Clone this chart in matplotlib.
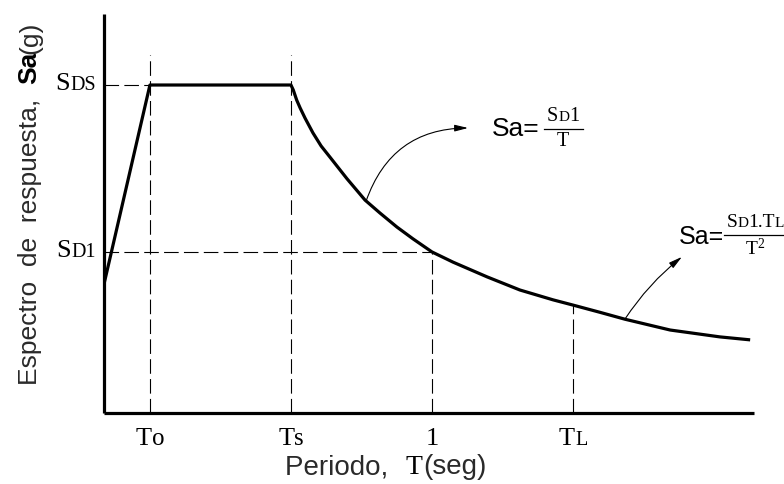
import matplotlib
matplotlib.use("Agg")
import matplotlib.pyplot as plt
from matplotlib.offsetbox import TextArea, HPacker, VPacker, DrawingArea, AnnotationBbox
from matplotlib.lines import Line2D

plt.rcParams['lines.scale_dashes'] = False

# ---------------- data ----------------
T_pts = [0.0, 0.140, 0.570, 0.577, 0.5875, 0.598, 0.613, 0.637, 0.662, 0.689,
         0.741, 0.796, 0.841, 0.893, 0.942, 1.000, 1.064, 1.168, 1.268,
         1.369, 1.430, 1.512, 1.588, 1.726, 1.878, 1.970]
Sa_pts = [0.393, 1.0, 1.0, 0.985, 0.954, 0.930, 0.899, 0.854, 0.814, 0.780,
          0.714, 0.649, 0.610, 0.567, 0.531, 0.491, 0.460, 0.415, 0.375,
          0.345, 0.329, 0.307, 0.286, 0.253, 0.232, 0.223]

T0, TS, T1, TL = 0.140, 0.570, 1.0, 1.430
SDS, SD1 = 1.0, 0.491
Sa_TL = 0.329
x_ticks = [T0, TS, T1, TL]
x_tick_labels = [("T", "o"), ("T", "s"), ("1", ""), ("T", "L")]
y_ticks = [SDS, SD1]
y_tick_labels = [("S", "DS"), ("S", "D1")]

SERIF = ['Liberation Serif', 'DejaVu Serif']
NARROW = ['Liberation Sans Narrow', 'Liberation Sans', 'DejaVu Sans']
TXT = '#2a2a2a'

fig = plt.figure(figsize=(7.84, 4.84), dpi=100)
ax = fig.add_axes([104/784, (484-413)/484, (754-104)/784, (413-14)/484])
ax.set_xlim(0, 1.9817)
ax.set_ylim(0, 1.2165)
for s in ['top', 'right']:
    ax.spines[s].set_visible(False)
for s in ['left', 'bottom']:
    ax.spines[s].set_linewidth(2.3)
    ax.spines[s].set_capstyle('butt')
ax.set_xticks([])
ax.set_yticks([])

# main curve
ax.plot(T_pts, Sa_pts, color='black', lw=2.3, solid_joinstyle='round',
        solid_capstyle='butt', zorder=3)

# dashed guide lines
dkw = dict(color='black', lw=0.8, linestyles=(0, (10.5, 3.8)), zorder=2)
top_guide = 1.091
ax.vlines([T0, TS], 0, top_guide, **dkw)
ax.vlines([T1], 0, SD1, **dkw)
ax.vlines([TL], 0, Sa_TL, **dkw)
ax.hlines([SDS], 0, T0, **dkw)
ax.hlines([SD1], 0, T1, **dkw)


def pack(parts, align='baseline', sep=0):
    children = [TextArea(t, textprops=p) for t, p in parts if t]
    return HPacker(children=children, align=align, pad=0, sep=sep)


def place(box, xy, xycoords, xybox=(0, 0), align=(0.5, 0.5)):
    ab = AnnotationBbox(box, xy, xycoords=xycoords, xybox=xybox,
                        boxcoords='offset points', box_alignment=align,
                        frameon=False, pad=0, annotation_clip=False)
    ax.add_artist(ab)


big = dict(family=SERIF, size=19, color='black')
small = dict(family=SERIF, size=14.5, color='black')

# x tick labels
for xv, (a, b) in zip(x_ticks, x_tick_labels):
    sp = dict(small) if b == 'L' else dict(big, size=18)
    place(pack([(a, big), (b, sp)]), (xv, 0), ('data', 'axes fraction'),
          xybox=(0, -11), align=(0.5, 1))

# y tick labels
for yv, (a, b) in zip(y_ticks, y_tick_labels):
    place(pack([(a, big), (b, small)]), (0, yv), ('axes fraction', 'data'),
          xybox=(-6, 1), align=(1, 0.5))

# x axis label
cad = dict(family=NARROW, size=20, color=TXT)
place(pack([("Periodo,  ", cad), ("T", dict(family=SERIF, size=20, color='black')),
            ("(seg)", cad)], sep=1),
      (386, 484-467), 'figure pixels', align=(0.5, 0.5))

# y axis label (rotated pieces)
ykw = dict(rotation=90, rotation_mode='anchor', ha='left', va='baseline')
fig.text(37/784, 1-385/484, "Espectro  de  respuesta,", family=NARROW, size=19,
         color=TXT, **ykw)
fig.text(36/784, 1-84/484, "Sa", family=NARROW, size=19, weight='bold',
         color='black', **ykw)
fig.text(37/784, 1-54/484, "(g)", family=NARROW, size=19, color=TXT, **ykw)


def frac_box(num_parts, den_parts, width_pt):
    num = pack(num_parts)
    den = pack(den_parts)
    da = DrawingArea(width_pt, 3, 0, 0)
    da.add_artist(Line2D([0, width_pt], [1.5, 1.5], color='black', lw=0.9))
    return VPacker(children=[num, da, den], align='center', pad=0, sep=1)


fS = dict(family=SERIF, size=14.5, color='black')
fs = dict(family=SERIF, size=11, color='black')
gS = dict(family=SERIF, size=14, color='black')
gs = dict(family=SERIF, size=11, color='black')

# formula 1
f1 = HPacker(children=[TextArea("Sa=", textprops=dict(family=NARROW, size=19, color='black')),
                       frac_box([("S", fS), ("D", fs), ("1", fS)], [("T", fS)], 28)],
             align='center', pad=0, sep=3)
place(f1, (492, 484-129), 'figure pixels', align=(0, 0.5))

# formula 2
f2 = HPacker(children=[TextArea("Sa=", textprops=dict(family=NARROW, size=18, color='black')),
                       frac_box([("S", gS), ("D", gs), ("1.T", gS), ("L", gs)],
                                [(r"$\mathregular{T^{2}}$", gS)], 45)],
             align='center', pad=0, sep=0)
place(f2, (679, 484-237), 'figure pixels', align=(0, 0.5))

# arrows
akw = dict(arrowstyle='-|>,head_length=0.8,head_width=0.2', color='black',
           lw=0.8, shrinkA=0, shrinkB=0)
ax.annotate("", xy=(1.110, 0.869), xytext=(0.799, 0.646),
            arrowprops=dict(akw, connectionstyle='arc3,rad=-0.35'))
ax.annotate("", xy=(1.762, 0.476), xytext=(1.588, 0.286),
            arrowprops=dict(akw, connectionstyle='arc3,rad=-0.08'))

fig.savefig("out.png", dpi=100)
